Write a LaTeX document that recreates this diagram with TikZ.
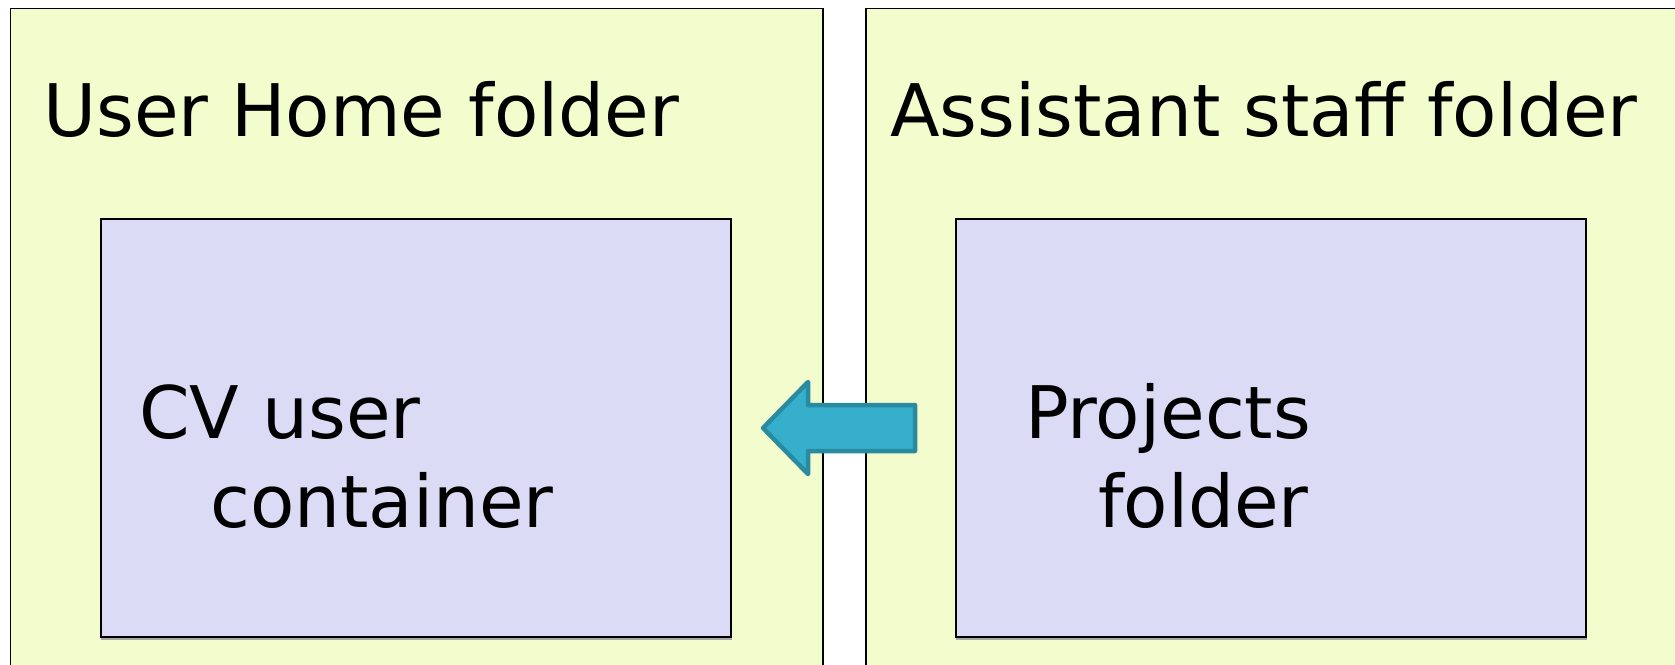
\documentclass[tikz,border=0pt]{standalone}
\usepackage{fontspec}
\setmainfont{DejaVu Sans}
\definecolor{outerfill}{HTML}{F3FCCC}
\definecolor{innerfill}{HTML}{DBDBF5}
\definecolor{arrowfill}{HTML}{35AFCB}
\definecolor{arrowline}{HTML}{2A8BA0}
\begin{document}
\begin{tikzpicture}[x=1pt,y=-1pt,
  outerbox/.style={draw=black,line width=1.5pt,fill=outerfill},
  innerbox/.style={draw=black,line width=1.5pt,fill=innerfill},
  lbl/.style={anchor=base west,inner sep=0pt,font=\fontsize{72.5}{87}\selectfont}]
\useasboundingbox (0,0) rectangle (1675,664);
\clip (0,0) rectangle (1675,664);
\fill[white] (0,0) rectangle (1675,664);
% outer folders
\draw[outerbox] (10.7,8.5) rectangle (823,690);
\coordinate (lo) at (10.7,8.5);
\draw[outerbox] (866,8.5) rectangle (1700,690);
\coordinate (ro) at (866,8.5);
% inner boxes with slight shadow
\draw[gray!70,line width=1.5pt] (101,639) -- (732,639);
\draw[gray!70,line width=1.5pt] (956,639) -- (1587,639);
\node[innerbox,minimum width=630pt,minimum height=418pt,anchor=north west,inner sep=0pt] (cv) at (100,218) {};
\node[innerbox,minimum width=630pt,minimum height=418pt,anchor=north west,inner sep=0pt] (proj) at (955,218) {};
% labels
\node[lbl] (t1) at (43,136) {User Home folder};
\node[lbl] (t2) at (890,136) {Assistant staff folder};
\node[lbl] (c1) at (139,438) {CV user};
\node[lbl] (c2) at (210,527) {container};
\node[lbl] (p1) at (1025,438) {Projects};
\node[lbl] (p2) at (1098,527) {folder};
% arrow
\draw[fill=arrowfill,draw=arrowline,line width=4.5pt,line join=round]
  (763,428) -- (808,382) -- (808,405) -- (915,405) -- (915,451) -- (808,451) -- (808,474) -- cycle;
\end{tikzpicture}
\end{document}
